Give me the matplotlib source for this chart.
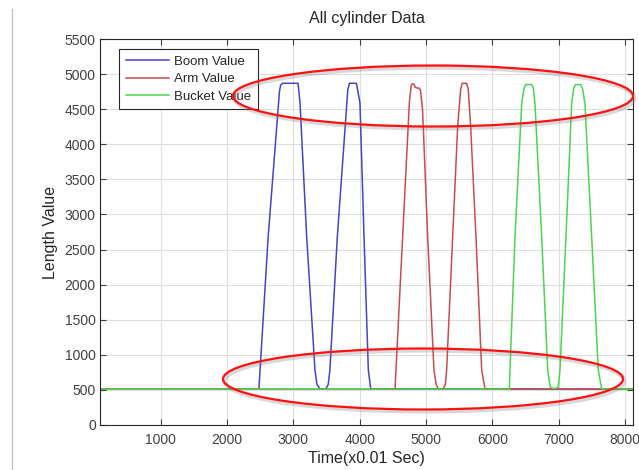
from matplotlib import pyplot as plt
from matplotlib.patches import Ellipse
from matplotlib.lines import Line2D
import numpy as np

plt.rcParams['font.family'] = ['Liberation Sans', 'DejaVu Sans']

# cylinder length readings (time in 0.01 s steps)
boom_t = [1, 2480, 2620, 2790, 2808, 2840, 3070, 3100, 3200, 3325, 3355, 3400, 3490,
          3525, 3550, 3662, 3820, 3845, 3950, 4003, 4064, 4129, 4165, 8110]
boom_v = [510, 510, 2683, 4750, 4845, 4869, 4869, 4588, 2683, 784, 580, 515, 515,
          580, 784, 2683, 4780, 4869, 4869, 4588, 2683, 784, 515, 510]

arm_t = [1, 4531, 4646, 4747, 4775, 4790, 4815, 4835, 4870, 4895, 4915, 4945, 4957,
         5023, 5118, 5150, 5185, 5260, 5290, 5309, 5400, 5475, 5520, 5545, 5610,
         5635, 5671, 5751, 5837, 5887, 8110]
arm_v = [510, 510, 2683, 4588, 4840, 4860, 4860, 4810, 4800, 4800, 4770, 4500, 4250,
         2683, 784, 580, 515, 515, 580, 784, 2683, 4250, 4780, 4869, 4869,
         4780, 4250, 2683, 784, 515, 510]

bucket_t = [1, 6253, 6339, 6440, 6475, 6500, 6590, 6615, 6640, 6741, 6832, 6870, 6930,
            6990, 7017, 7107, 7193, 7225, 7250, 7330, 7360, 7393, 7494, 7594, 7645, 8110]
bucket_v = [510, 510, 2683, 4578, 4800, 4850, 4850, 4800, 4578, 2683, 784, 540, 515,
            540, 784, 2683, 4578, 4800, 4850, 4850, 4780, 4578, 2683, 784, 515, 510]

xticks = np.arange(1000, 8001, 1000)
yticks = np.arange(0, 5501, 500)

W, H = 639, 470
fig = plt.figure(figsize=(W/100, H/100), dpi=100)
ax = fig.add_axes([100/W, 45/H, 533/W, 386/H])

ax.plot(boom_t, boom_v, color='#4444c4', lw=1.1, label='Boom Value')
ax.plot(arm_t, arm_v, color='#c84c4c', lw=1.1, label='Arm Value')
ax.plot(bucket_t, bucket_v, color='#4cd44c', lw=1.1, label='Bucket Value')

ax.set_xlim(86, 8117)
ax.set_ylim(0, 5500)
ax.set_xticks(xticks)
ax.set_yticks(yticks)
ax.grid(True, color='#dedede', lw=0.8)
ax.set_axisbelow(True)
ax.tick_params(direction='in', length=4, width=0.8, top=True, right=True,
               labelsize=10, colors='#404040')
ax.tick_params(axis='x', pad=6)
ax.tick_params(axis='y', pad=3)
for s in ax.spines.values():
    s.set_color('#262626')
    s.set_linewidth(0.8)

ax.set_title('All cylinder Data', fontsize=11.5, color='#262626', y=1.031, va='center')
ax.set_xlabel('Time(x0.01 Sec)', fontsize=11.5, color='#262626', va='center')
ax.xaxis.set_label_coords(0.5, -0.086)
ax.set_ylabel('Length Value', fontsize=11.5, color='#262626', va='center')
ax.yaxis.set_label_coords(-0.092, 0.5)

leg = ax.legend(loc='upper left', bbox_to_anchor=(119/W, 1 - 49/H),
                bbox_transform=fig.transFigure, borderaxespad=0, fontsize=9.5,
                handlelength=3.3, handletextpad=0.4, labelspacing=0.4,
                borderpad=0.5, fancybox=False, framealpha=1)
leg.get_frame().set_edgecolor('#262626')
leg.get_frame().set_linewidth(0.8)
for t in leg.get_texts():
    t.set_color('#262626')

# red highlight ellipses, with a soft shadow
for cx, cy, w, h in [(433, 96, 400, 61), (423, 379, 400, 61)]:
    sh = Ellipse(((cx + 1.5)/W, 1 - (cy + 2)/H), w/W, h/H, transform=fig.transFigure,
                 fill=False, ec='#808080', lw=3, alpha=0.3)
    e = Ellipse((cx/W, 1 - cy/H), w/W, h/H, transform=fig.transFigure,
                fill=False, ec='#ff1010', lw=1.6)
    fig.add_artist(sh)
    fig.add_artist(e)

fig.add_artist(Line2D([12/W, 12/W], [0, 1 - 9/H], transform=fig.transFigure,
                      color='#c4c4c4', lw=1))

fig.savefig('out.png', dpi=100)
